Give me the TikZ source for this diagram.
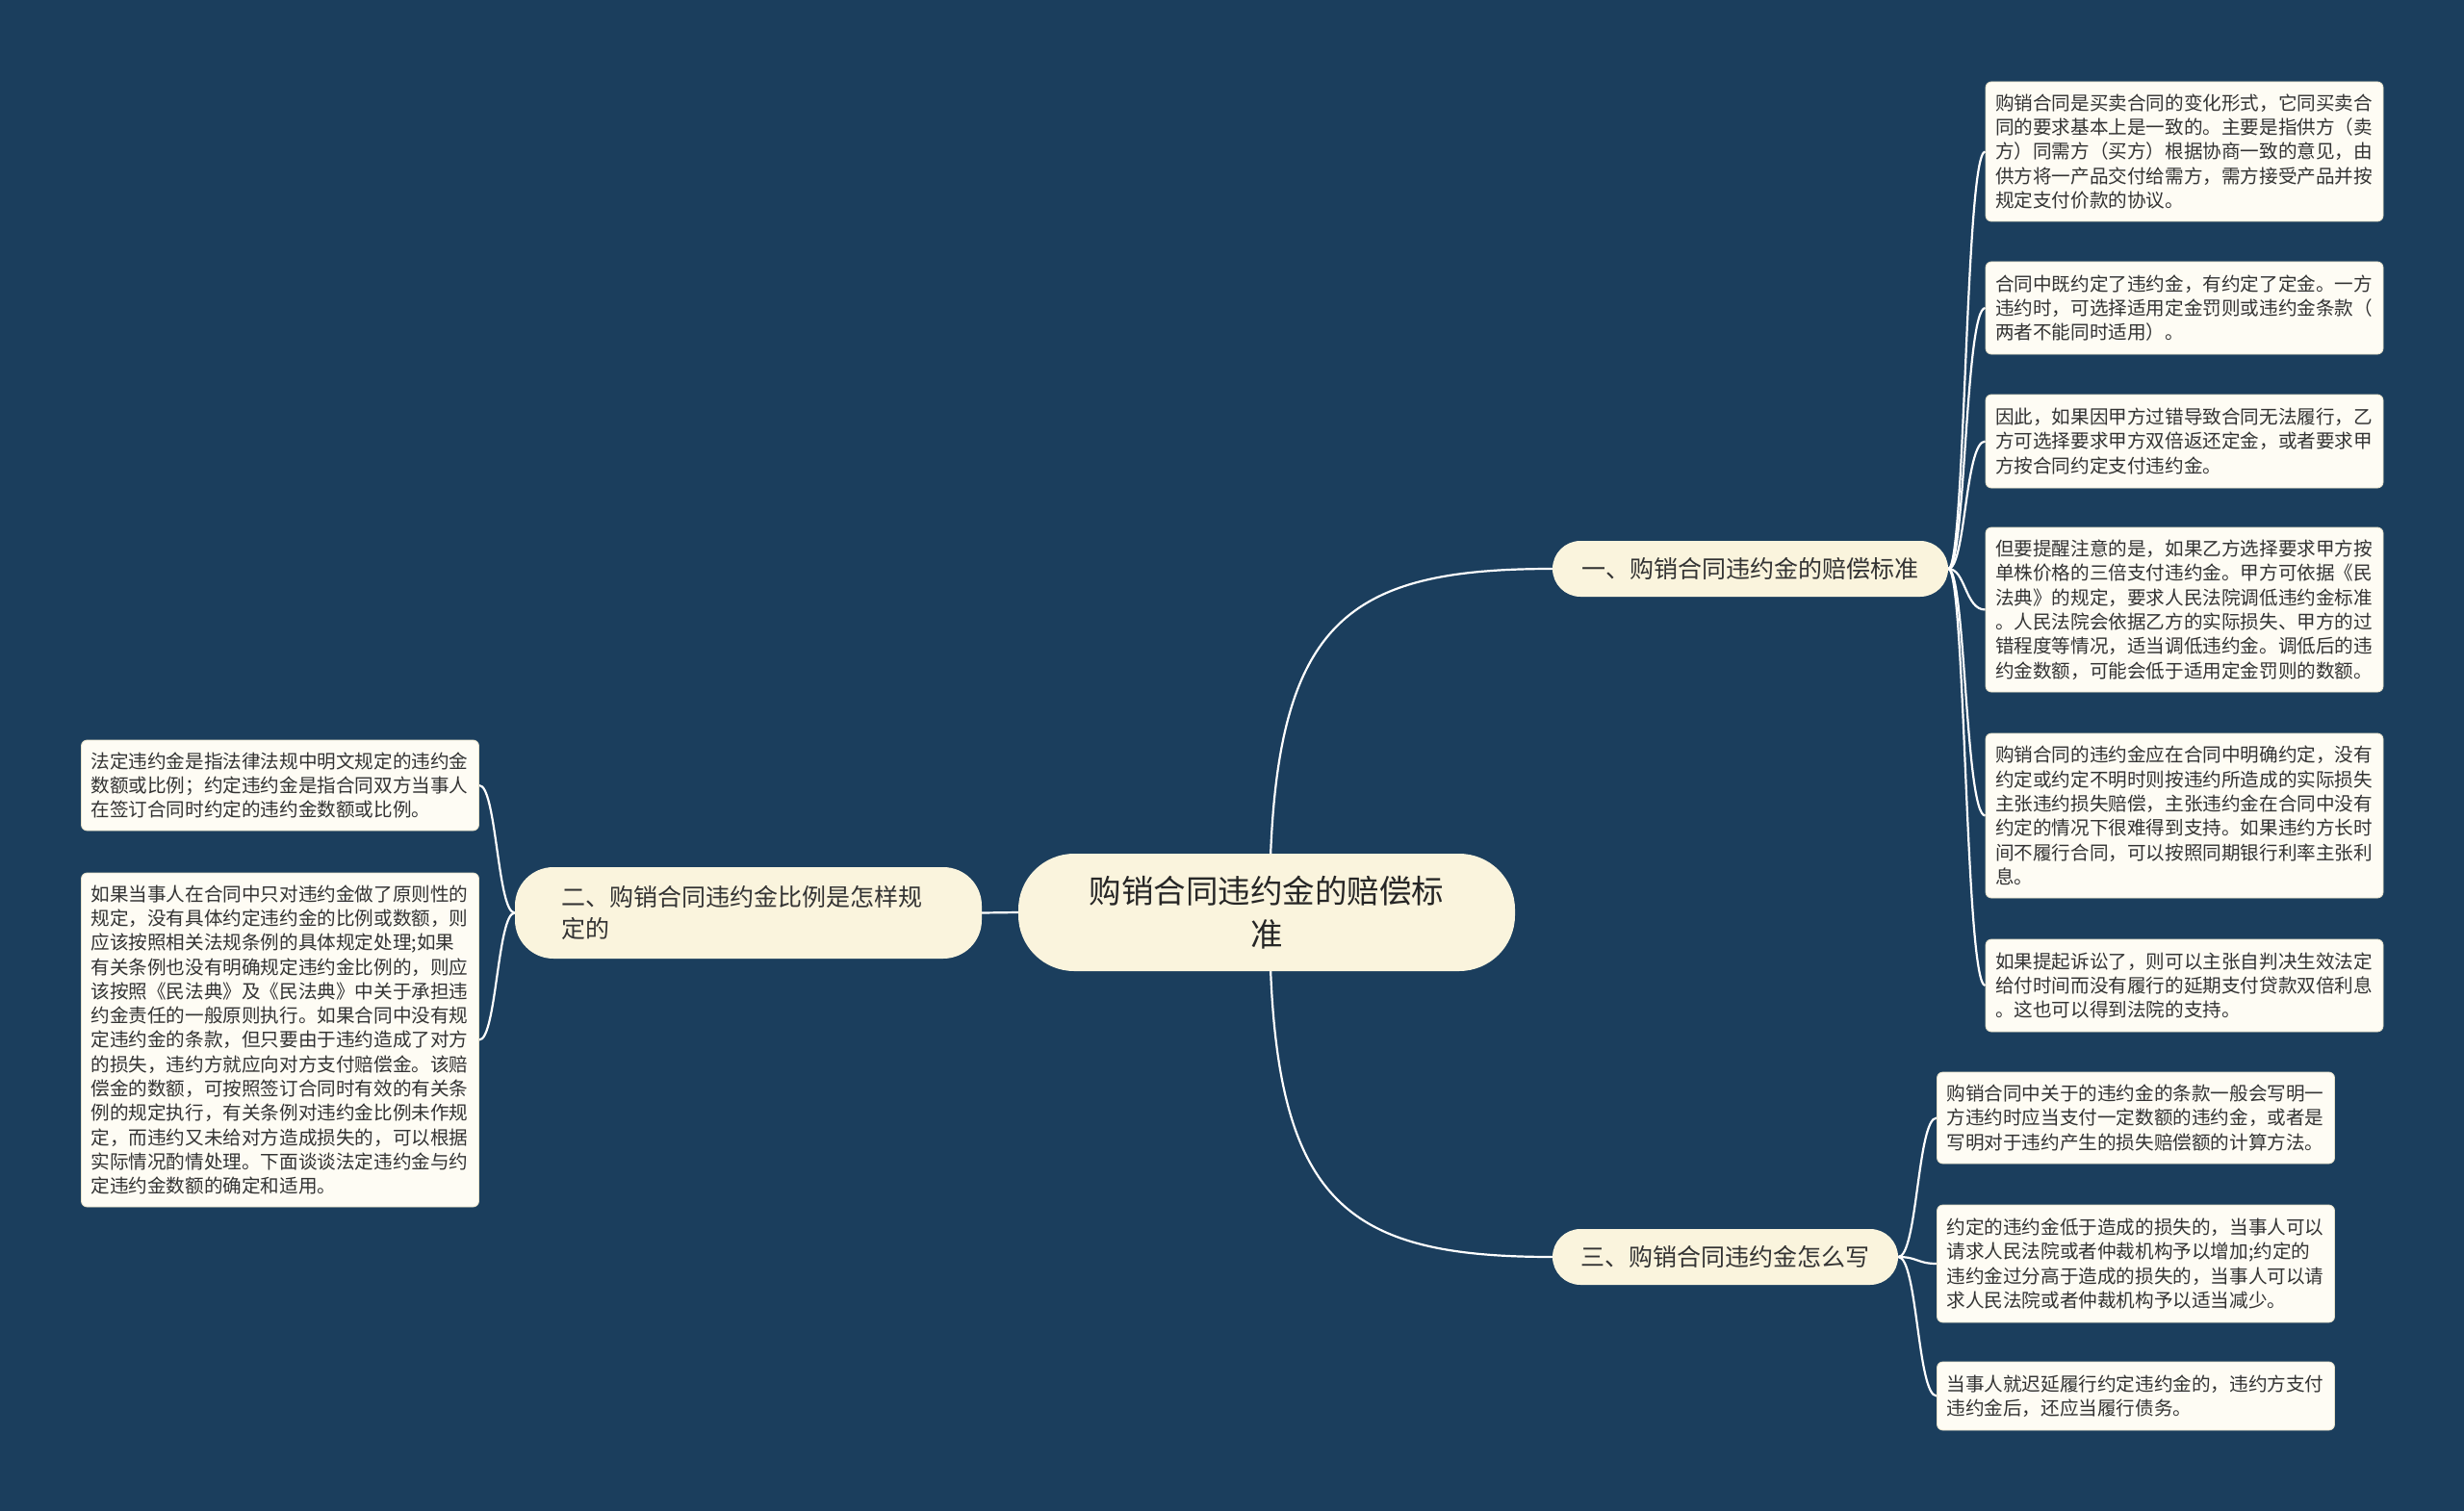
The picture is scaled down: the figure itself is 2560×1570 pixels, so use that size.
\documentclass[tikz,border=0pt]{standalone}
\usepackage{fontspec}
\setmainfont{Noto Sans CJK SC}
\usetikzlibrary{backgrounds}
\definecolor{bgc}{HTML}{1B3E5D}
\definecolor{leaffill}{HTML}{FEFCF4}
\definecolor{leafborder}{HTML}{E6E0C8}
\definecolor{branchfill}{HTML}{FAF4DD}
\definecolor{txt}{HTML}{333333}
\tikzset{
  leaf/.style={rounded corners=6pt, fill=leaffill, draw=leafborder, line width=0.8pt,
    text width=393pt, minimum width=413pt, align=left, inner sep=0pt, text=txt,
    font=\fontsize{19.6}{25.3}\selectfont},
  branch/.style={fill=branchfill, draw=none, inner sep=0pt, text=txt,
    font=\fontsize{25}{32.6}\selectfont},
  conn/.style={draw=white, line width=2.2pt},
}
\begin{document}
\begin{tikzpicture}[x=1pt,y=-1pt]
\useasboundingbox (0,0) rectangle (2560,1570);
% center
\node[branch, rounded corners=58pt, minimum width=516pt, minimum height=122pt, align=center,
  font=\fontsize{33.5}{45.7}\selectfont, text=black!85] (c) at (1316,948) {购销合同违约金的赔偿标\\准};
% branches
\node[branch, rounded corners=29pt, minimum width=411pt, minimum height=58pt] (b1) at (1818.5,591) {一、购销合同违约金的赔偿标准};
\node[branch, rounded corners=40pt, minimum width=485pt, minimum height=95pt, text width=389pt, align=left] (b2) at (777.5,948.5) {二、购销合同违约金比例是怎样规\\定的};
\node[branch, rounded corners=29pt, minimum width=359pt, minimum height=58pt] (b3) at (1792.5,1306) {三、购销合同违约金怎么写};
% right leaves of branch 1
\node[leaf, minimum height=145pt] (r1) at (2269.5,157.5) {购销合同是买卖合同的变化形式，它同买卖合\\同的要求基本上是一致的。主要是指供方（卖\\方）同需方（买方）根据协商一致的意见，由\\供方将一产品交付给需方，需方接受产品并按\\规定支付价款的协议。};
\node[leaf, minimum height=96pt] (r2) at (2269.5,320) {合同中既约定了违约金，有约定了定金。一方\\违约时，可选择适用定金罚则或违约金条款（\\两者不能同时适用）。};
\node[leaf, minimum height=97pt] (r3) at (2269.5,458.5) {因此，如果因甲方过错导致合同无法履行，乙\\方可选择要求甲方双倍返还定金，或者要求甲\\方按合同约定支付违约金。};
\node[leaf, minimum height=171pt] (r4) at (2269.5,633.5) {但要提醒注意的是，如果乙方选择要求甲方按\\单株价格的三倍支付违约金。甲方可依据《民\\法典》的规定，要求人民法院调低违约金标准\\。人民法院会依据乙方的实际损失、甲方的过\\错程度等情况，适当调低违约金。调低后的违\\约金数额，可能会低于适用定金罚则的数额。};
\node[leaf, minimum height=171pt] (r5) at (2269.5,847.5) {购销合同的违约金应在合同中明确约定，没有\\约定或约定不明时则按违约所造成的实际损失\\主张违约损失赔偿，主张违约金在合同中没有\\约定的情况下很难得到支持。如果违约方长时\\间不履行合同，可以按照同期银行利率主张利\\息。};
\node[leaf, minimum height=96pt] (r6) at (2269.5,1024) {如果提起诉讼了，则可以主张自判决生效法定\\给付时间而没有履行的延期支付贷款双倍利息\\。这也可以得到法院的支持。};
% leaves of branch 3
\node[leaf, minimum height=95pt] (s1) at (2219,1161.5) {购销合同中关于的违约金的条款一般会写明一\\方违约时应当支付一定数额的违约金，或者是\\写明对于违约产生的损失赔偿额的计算方法。};
\node[leaf, minimum height=122pt] (s2) at (2219,1313) {约定的违约金低于造成的损失的，当事人可以\\请求人民法院或者仲裁机构予以增加;约定的\\违约金过分高于造成的损失的，当事人可以请\\求人民法院或者仲裁机构予以适当减少。};
\node[leaf, minimum height=71pt] (s3) at (2219,1450.5) {当事人就迟延履行约定违约金的，违约方支付\\违约金后，还应当履行债务。};
% left leaves of branch 2
\node[leaf, minimum height=94pt] (l1) at (291,816) {法定违约金是指法律法规中明文规定的违约金\\数额或比例；约定违约金是指合同双方当事人\\在签订合同时约定的违约金数额或比例。};
\node[leaf, minimum height=347pt] (l2) at (291,1080.5) {如果当事人在合同中只对违约金做了原则性的\\规定，没有具体约定违约金的比例或数额，则\\应该按照相关法规条例的具体规定处理;如果\\有关条例也没有明确规定违约金比例的，则应\\该按照《民法典》及《民法典》中关于承担违\\约金责任的一般原则执行。如果合同中没有规\\定违约金的条款，但只要由于违约造成了对方\\的损失，违约方就应向对方支付赔偿金。该赔\\偿金的数额，可按照签订合同时有效的有关条\\例的规定执行，有关条例对违约金比例未作规\\定，而违约又未给对方造成损失的，可以根据\\实际情况酌情处理。下面谈谈法定违约金与约\\定违约金数额的确定和适用。};
\begin{scope}[on background layer]
\fill[bgc] (0,0) rectangle (2560,1570);
\draw[conn] ([xshift=3pt]c.center) .. controls +(0,-298) and +(-223,0) .. (b1.west);
\draw[conn] ([xshift=3pt]c.center) .. controls +(0,298) and +(-223,0) .. (b3.west);
\draw[conn] (b2.east) -- (c.west);
\foreach \n in {r1,r2,r3,r4,r5,r6}
  \draw[conn] (b1.east) .. controls +(18,0) and +(-21,0) .. (\n.west);
\foreach \n in {s1,s2,s3}
  \draw[conn] (b3.east) .. controls +(20,0) and +(-20,0) .. (\n.west);
\foreach \n in {l1,l2}
  \draw[conn] (b2.west) .. controls +(-18,0) and +(18,0) .. (\n.east);
\end{scope}
\end{tikzpicture}
\end{document}
